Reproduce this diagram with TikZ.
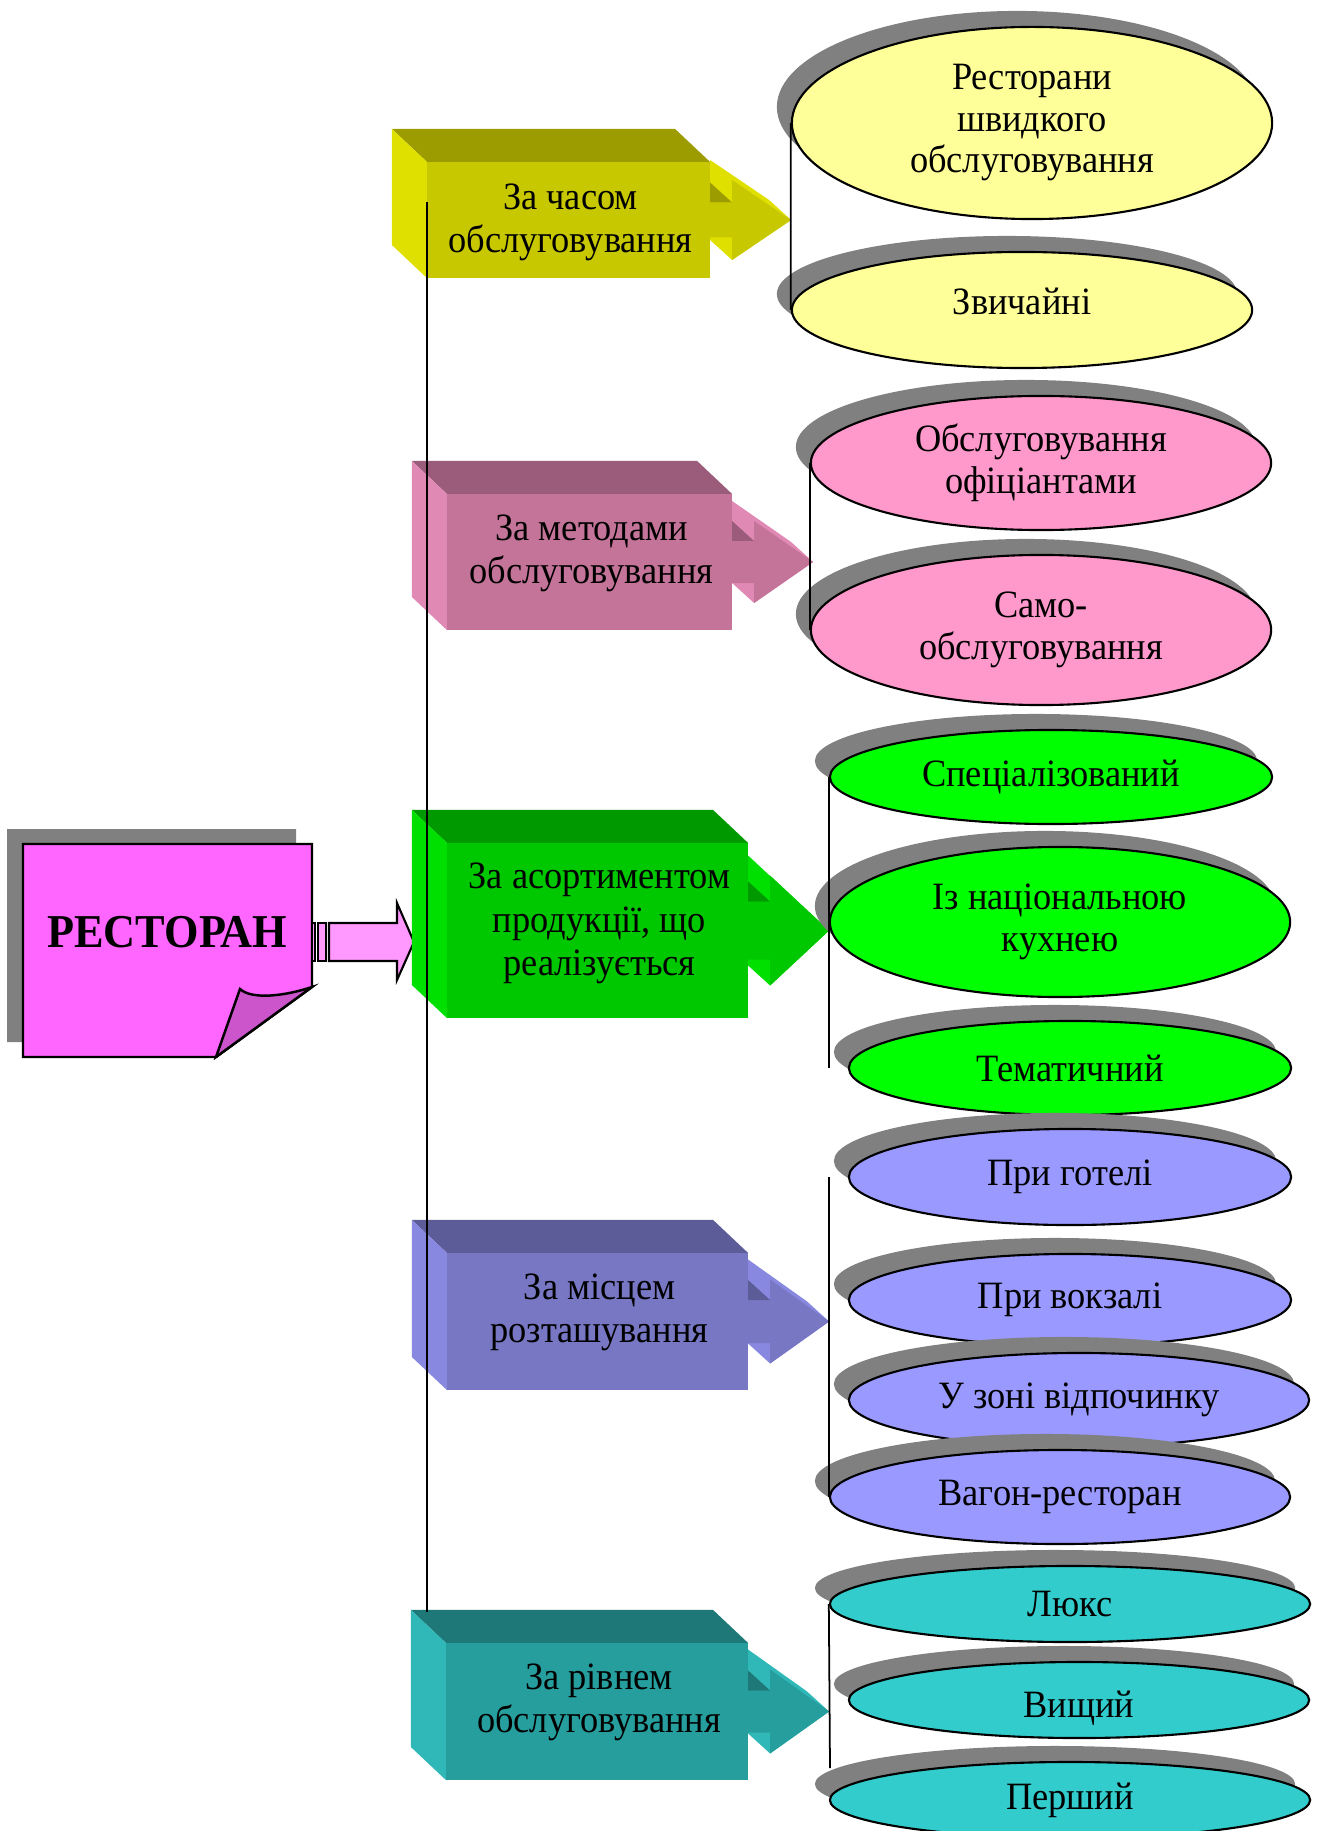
\documentclass[tikz,border=0pt]{standalone}
\usepackage{fontspec}
\setmainfont{Liberation Serif}[FakeStretch=0.94]
\usetikzlibrary{shapes.geometric,shadows}

\definecolor{shadowgray}{RGB}{128,128,128}
\definecolor{pagepink}{RGB}{255,102,255}
\definecolor{pagefold}{RGB}{204,85,204}
\definecolor{arrowpink}{RGB}{255,153,255}
\definecolor{timefront}{RGB}{200,200,0}
\definecolor{timetop}{RGB}{156,156,0}
\definecolor{timeside}{RGB}{224,224,0}
\definecolor{timeleaf}{RGB}{255,255,153}
\definecolor{methodfront}{RGB}{196,116,153}
\definecolor{methodtop}{RGB}{154,92,122}
\definecolor{methodside}{RGB}{224,137,181}
\definecolor{methodleaf}{RGB}{255,153,204}
\definecolor{rangefront}{RGB}{0,200,0}
\definecolor{rangetop}{RGB}{0,153,0}
\definecolor{rangeside}{RGB}{0,224,0}
\definecolor{rangeleaf}{RGB}{0,255,0}
\definecolor{placefront}{RGB}{119,119,196}
\definecolor{placetop}{RGB}{92,92,153}
\definecolor{placeside}{RGB}{136,136,224}
\definecolor{placeleaf}{RGB}{153,153,255}
\definecolor{levelfront}{RGB}{39,158,158}
\definecolor{leveltop}{RGB}{30,120,120}
\definecolor{levelside}{RGB}{48,184,184}
\definecolor{levelleaf}{RGB}{51,204,204}

\newcommand{\catfont}{\fontsize{11}{12.3}\selectfont}
\newcommand{\leaffont}{\fontsize{11}{11.8}\selectfont}
\newcommand{\restfont}{\fontsize{13.4}{15}\selectfont\bfseries}

% 3D box with its arrow: name, centre, width, height, text, shaft, head, text shift
\newcommand{\catbox}[8]{%
  \node[catface, fill=#1front, minimum width=#3, minimum height=#4] (#1) at (#2) {};
  \fill[#1top] (#1.north west) -- ++(-35,-33) -- ([shift={(-35,-33)}]#1.north east) -- (#1.north east) -- cycle;
  \fill[#1side] (#1.north west) -- ++(-35,-33) -- ([shift={(-35,-33)}]#1.south west) -- (#1.south west) -- cycle;
  \begin{scope}[shift={(#1.east)}]
    \fill[#1side] (0,-#7-20) -- (59,-20) -- (81,0) -- (22,#7) -- (0,#7-20) -- cycle;
    \fill[#1front] (0,-#6) -- (22,-#6) -- (22,-#7) -- (81,0) -- (22,#7) -- (22,#6) -- (0,#6) -- cycle;
    \fill[#1top] (0,-#6-20) -- (22,-#6) -- (0,-#6) -- cycle;
  \end{scope}
  \node[align=center, font=\catfont] (#1label) at ([shift={(2,#8)}]#1.center) {#5};}

\begin{document}
\begin{tikzpicture}[x=0.01cm, y=-0.01cm,
  catface/.style={rectangle, inner sep=0pt, outer sep=0pt},
  leaf/.style={ellipse, draw=black, line width=0.6pt, inner sep=0pt, align=center, font=\leaffont,
    drop shadow={shadow xshift=-0.15cm, shadow yshift=0.16cm, opacity=1, fill=shadowgray}},
  groupline/.style={line width=0.5pt},
  trunkline/.style={line width=0.6pt}]
\useasboundingbox (0,0) rectangle (1321,1831);

% Restaurant page
\fill[shadowgray] (7,829) -- (296,829) -- (296,972) -- (200,1042) -- (7,1042) -- cycle;
\filldraw[fill=pagepink, line width=0.7pt] (23,844) -- (312,844) -- (312,987) -- (216,1057) -- (23,1057) -- cycle;
\filldraw[fill=pagefold, line width=0.7pt] (240,989) .. controls (252,1000) and (285,996) .. (312,987) -- (216,1057) -- cycle;
\node[font=\restfont] (rest) at (167,932) {РЕСТОРАН};

% Arrow to the categories
\filldraw[fill=arrowpink, line width=0.6pt] (312,923) rectangle (315,961);
\filldraw[fill=arrowpink, line width=0.6pt] (318,923) rectangle (326,961);
\filldraw[fill=arrowpink, line width=0.6pt] (329,923) -- (397,923) -- (397,903) -- (414,942) -- (397,980) -- (397,961) -- (329,961) -- cycle;

% Categories
\catbox{time}{568.5,220}{2.83cm}{1.16cm}{За часом\\обслуговування}{17.5}{40}{2}
\catbox{method}{589.5,562}{2.85cm}{1.36cm}{За методами\\обслуговування}{21}{41}{-9}
\catbox{range}{597.5,930.5}{3.01cm}{1.75cm}{За асортиментом\\продукції, що\\реалізується}{29}{55}{-7}
\catbox{place}{597.5,1321.5}{3.01cm}{1.37cm}{За місцем\\розташування}{21.5}{42}{-9}
\catbox{level}{597,1711.5}{3.02cm}{1.37cm}{За рівнем\\обслуговування}{21}{42}{-9}

% Trunk
\coordinate (trunktop) at (427,202);
\coordinate (trunkend) at (427,1612);
\draw[trunkline] (trunktop) -- (trunkend);

% Time of service
\node[leaf, fill=timeleaf, minimum width=4.8cm, minimum height=1.92cm] (fast) at (1032,123) {Ресторани\\швидкого\\обслуговування};
\node[leaf, fill=timeleaf, minimum width=4.6cm, minimum height=1.16cm, text depth=0.18cm] (usual) at (1022,310) {Звичайні};
\draw[groupline] (fast.west) -- (usual.west);

% Service methods
\node[leaf, fill=methodleaf, minimum width=4.6cm, minimum height=1.34cm] (waiter) at (1041,463) {Обслуговування\\офіціантами};
\node[leaf, fill=methodleaf, minimum width=4.6cm, minimum height=1.5cm] (self) at (1041,630) {Само-\\обслуговування};
\draw[groupline] (waiter.west) -- (self.west);

% Product range
\node[leaf, fill=rangeleaf, minimum width=4.42cm, minimum height=0.94cm] (special) at (1051,777) {Спеціалізований};
\node[leaf, fill=rangeleaf, minimum width=4.6cm, minimum height=1.5cm] (national) at (1060,922) {Із національною\\кухнею};
\node[leaf, fill=rangeleaf, minimum width=4.42cm, minimum height=0.94cm] (theme) at (1070,1068) {Тематичний};
\draw[groupline] (special.west) -- (special.west |- theme.center);

% Location
\node[leaf, fill=placeleaf, minimum width=4.42cm, minimum height=0.96cm] (hotel) at (1070,1177) {При готелі};
\node[leaf, fill=placeleaf, minimum width=4.42cm, minimum height=0.92cm] (station) at (1070,1300) {При вокзалі};
\node[leaf, fill=placeleaf, minimum width=4.6cm, minimum height=0.94cm] (resort) at (1079,1400) {У зоні відпочинку};
\node[leaf, fill=placeleaf, minimum width=4.6cm, minimum height=0.94cm] (dining) at (1060,1497) {Вагон-ресторан};
\draw[groupline] (dining.west |- hotel.center) -- (dining.west);

% Service level
\node[leaf, fill=levelleaf, minimum width=4.8cm, minimum height=0.76cm] (lux) at (1070,1604) {Люкс};
\node[leaf, fill=levelleaf, minimum width=4.6cm, minimum height=0.76cm, text height=0.42cm] (higher) at (1079,1700) {Вищий};
\node[leaf, fill=levelleaf, minimum width=4.8cm, minimum height=0.76cm] (first) at (1070,1800) {Перший};
\coordinate (levelend) at (830,1768);
\draw[groupline] (lux.west) -- (levelend);
\end{tikzpicture}
\end{document}
